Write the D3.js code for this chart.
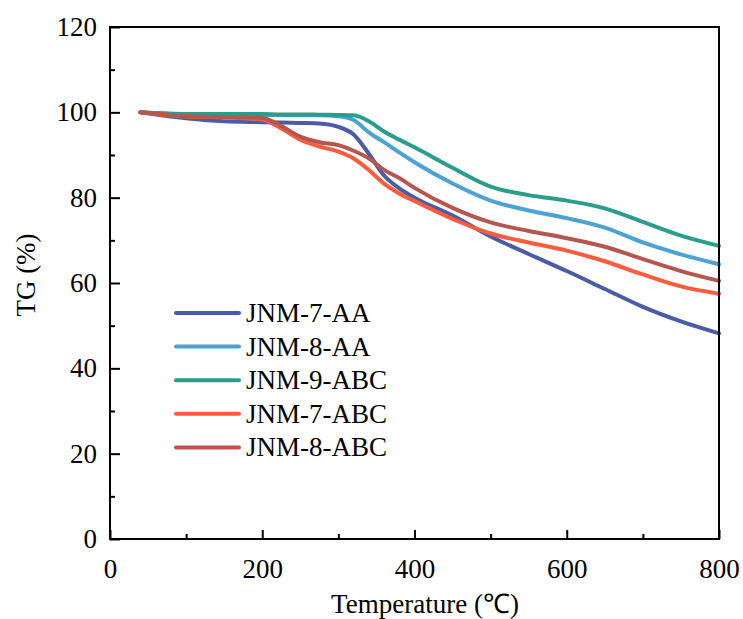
<!DOCTYPE html>
<html>
<head>
<meta charset="utf-8">
<script src="https://cdn.jsdelivr.net/npm/d3@7"></script>
<style>
  html, body { margin: 0; padding: 0; background: #fff; }
  svg text { font-family: "Liberation Serif", "Times New Roman", serif; fill: #000; }
</style>
</head>
<body>
<svg id="chart" width="743" height="619"></svg>
<script>
const temperatures = [40,100,150,200,225,250,275,300,320,340,360,380,400,450,500,550,600,650,700,750,800];
const seriesNames = ["JNM-7-AA","JNM-8-AA","JNM-9-ABC","JNM-7-ABC","JNM-8-ABC"];
const jnm7AA  = [100,98.6,97.9,97.7,97.6,97.5,97.4,96.6,94.8,90.3,85.2,82.2,80.0,75.8,70.9,66.8,62.8,58.6,54.4,51.0,48.2];
const jnm8AA  = [100,99.5,99.4,99.4,99.35,99.3,99.3,99.1,98.2,95.3,93.0,90.6,88.3,83.3,79.3,77.0,75.2,73.0,69.5,66.7,64.4];
const jnm9ABC = [100,99.6,99.6,99.6,99.5,99.5,99.45,99.4,99.3,97.9,95.5,93.6,91.8,87.0,82.6,80.6,79.3,77.5,74.3,71.1,68.7];
const jnm7ABC = [100,99.0,98.8,98.3,96.2,93.6,92.0,90.8,89.2,86.5,83.3,81.0,79.2,75.0,71.6,69.5,67.6,65.1,62.0,59.2,57.5];
const jnm8ABC = [100,99.1,98.9,98.7,96.8,94.3,93.0,92.3,91.0,89.2,86.5,84.6,82.3,77.6,74.2,72.2,70.5,68.5,65.6,62.8,60.5];
const seriesValues = [jnm7AA, jnm8AA, jnm9ABC, jnm7ABC, jnm8ABC];
const seriesColors = ["#4a5ba8","#4aa3d4","#2a9d8c","#ff5b3d","#b5574f"];
const xTicks = [0,200,400,600,800];
const xMinorTicks = [100,300,500,700];
const yTicks = [0,20,40,60,80,100,120];
const yMinorTicks = [10,30,50,70,90,110];

const svg = d3.select("#chart");
const mLeft = 110, mRight = 719, mTop = 27, mBottom = 539;
const x = d3.scaleLinear().domain([0,800]).range([mLeft,mRight]);
const y = d3.scaleLinear().domain([0,120]).range([mBottom,mTop]);

// lines
const line = d3.line().x(d => x(d[0])).y(d => y(d[1])).curve(d3.curveMonotoneX);
seriesValues.forEach((vals,i) => {
  svg.append("path")
    .datum(temperatures.map((t,j) => [t, vals[j]]))
    .attr("fill","none")
    .attr("stroke", seriesColors[i])
    .attr("stroke-width", 4)
    .attr("stroke-linejoin","round")
    .attr("stroke-linecap","round")
    .attr("d", line);
});

// frame
svg.append("rect").attr("x",mLeft).attr("y",mTop).attr("width",mRight-mLeft).attr("height",mBottom-mTop)
  .attr("fill","none").attr("stroke","#000").attr("stroke-width",2);

// axes with inward ticks
svg.append("g").attr("transform",`translate(0,${mBottom})`)
  .call(d3.axisBottom(x).tickValues(xTicks).tickSize(-9).tickPadding(20).tickFormat(d3.format("d")));
svg.append("g").attr("transform",`translate(0,${mBottom})`)
  .call(d3.axisBottom(x).tickValues(xMinorTicks).tickSize(-5).tickFormat(""));
svg.append("g").attr("transform",`translate(${mLeft},0)`)
  .call(d3.axisLeft(y).tickValues(yTicks).tickSize(-10).tickPadding(13).tickFormat(d3.format("d")));
svg.append("g").attr("transform",`translate(${mLeft},0)`)
  .call(d3.axisLeft(y).tickValues(yMinorTicks).tickSize(-5).tickFormat(""));
svg.selectAll(".domain").remove();
svg.selectAll(".tick line").attr("stroke","#000").attr("stroke-width",2);
svg.selectAll(".tick text").attr("font-size","27px").attr("font-family","Liberation Serif, serif").attr("fill","#000");

// axis titles
svg.append("text").attr("x",425).attr("y",613).attr("text-anchor","middle")
  .attr("font-size","27px").text("Temperature (℃)");
svg.append("text").attr("transform","translate(35,275) rotate(-90)").attr("text-anchor","middle")
  .attr("font-size","27px").text("TG (%)");

// legend
const legend = svg.append("g");
seriesNames.forEach((name,i) => {
  const ly = 313 + i*33.6;
  legend.append("line").attr("x1",176).attr("x2",239).attr("y1",ly).attr("y2",ly)
    .attr("stroke",seriesColors[i]).attr("stroke-width",4).attr("stroke-linecap","round");
  legend.append("text").attr("x",246).attr("y",ly+9).attr("font-size","27px").text(name);
});
</script>
</body>
</html>
